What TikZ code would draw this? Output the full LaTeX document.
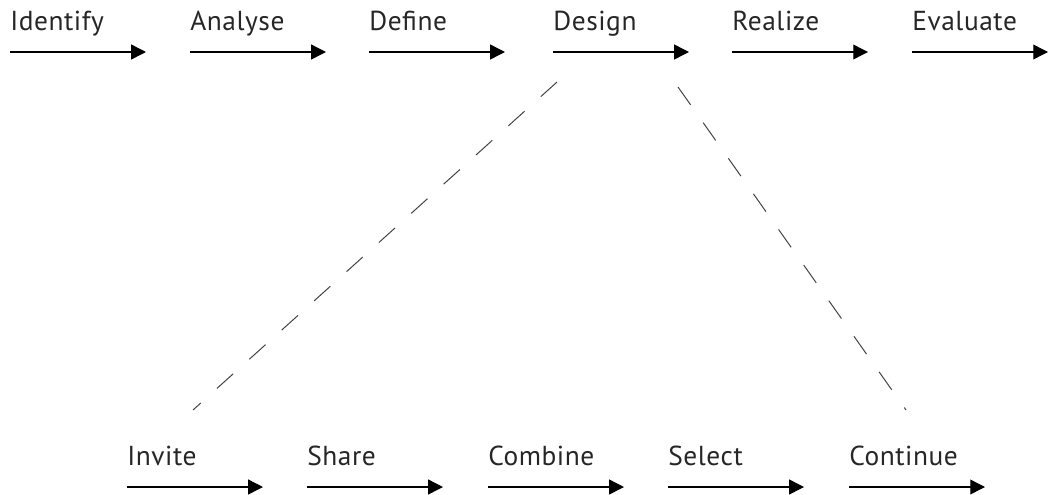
\documentclass[tikz,border=0pt]{standalone}
\usepackage{fontspec}
\setmainfont[LetterSpace=2]{PT Sans}
\usetikzlibrary{arrows.meta}

\begin{document}
\begin{tikzpicture}[x=0.025cm, y=-0.025cm,
                    every node/.style={anchor=base west,
                                       inner sep=0pt,
                                       text=black!85,
                                       font=\fontsize{19.5}{22}\selectfont},
                    flow/.style={line width=1pt, -{Triangle[length=10.5pt, width=10.5pt]}},
                    link/.style={line width=0.7pt, black!75, dash pattern=on 15.5pt off 15.5pt}]

                      \useasboundingbox (0,0) rectangle (1049,494);

                      % main process
                      \foreach \n/\t/\x in {identify/Identify/10, analyse/Analyse/190,
                                            define/Define/369, design/Design/553,
                                            realize/Realize/732, evaluate/Evaluate/912} {
                              \node (\n) at (\x, 30) {\t};
                              \coordinate (\n-a) at (\x, 52);
                              \coordinate (\n-b) at (\x+136, 52);
                              \draw[flow] (\n-a) -- (\n-b);
                          }

                      % design steps
                      \foreach \n/\t/\x in {invite/Invite/127, share/Share/307,
                                            combine/Combine/488, select/Select/668,
                                            continue/Continue/849} {
                              \node (\n) at (\x, 465) {\t};
                              \coordinate (\n-a) at (\x, 487);
                              \coordinate (\n-b) at (\x+136, 487);
                              \draw[flow] (\n-a) -- (\n-b);
                          }

                      \coordinate (zoom-l) at (557, 82);
                      \coordinate (zoom-r) at (678, 87);
                      \coordinate (fan-l) at (193, 410);
                      \coordinate (fan-r) at (906, 410);

                      \draw[link] (zoom-l) -- (fan-l);
                      \draw[link] (zoom-r) -- (fan-r);
                  \end{tikzpicture}
\end{document}
